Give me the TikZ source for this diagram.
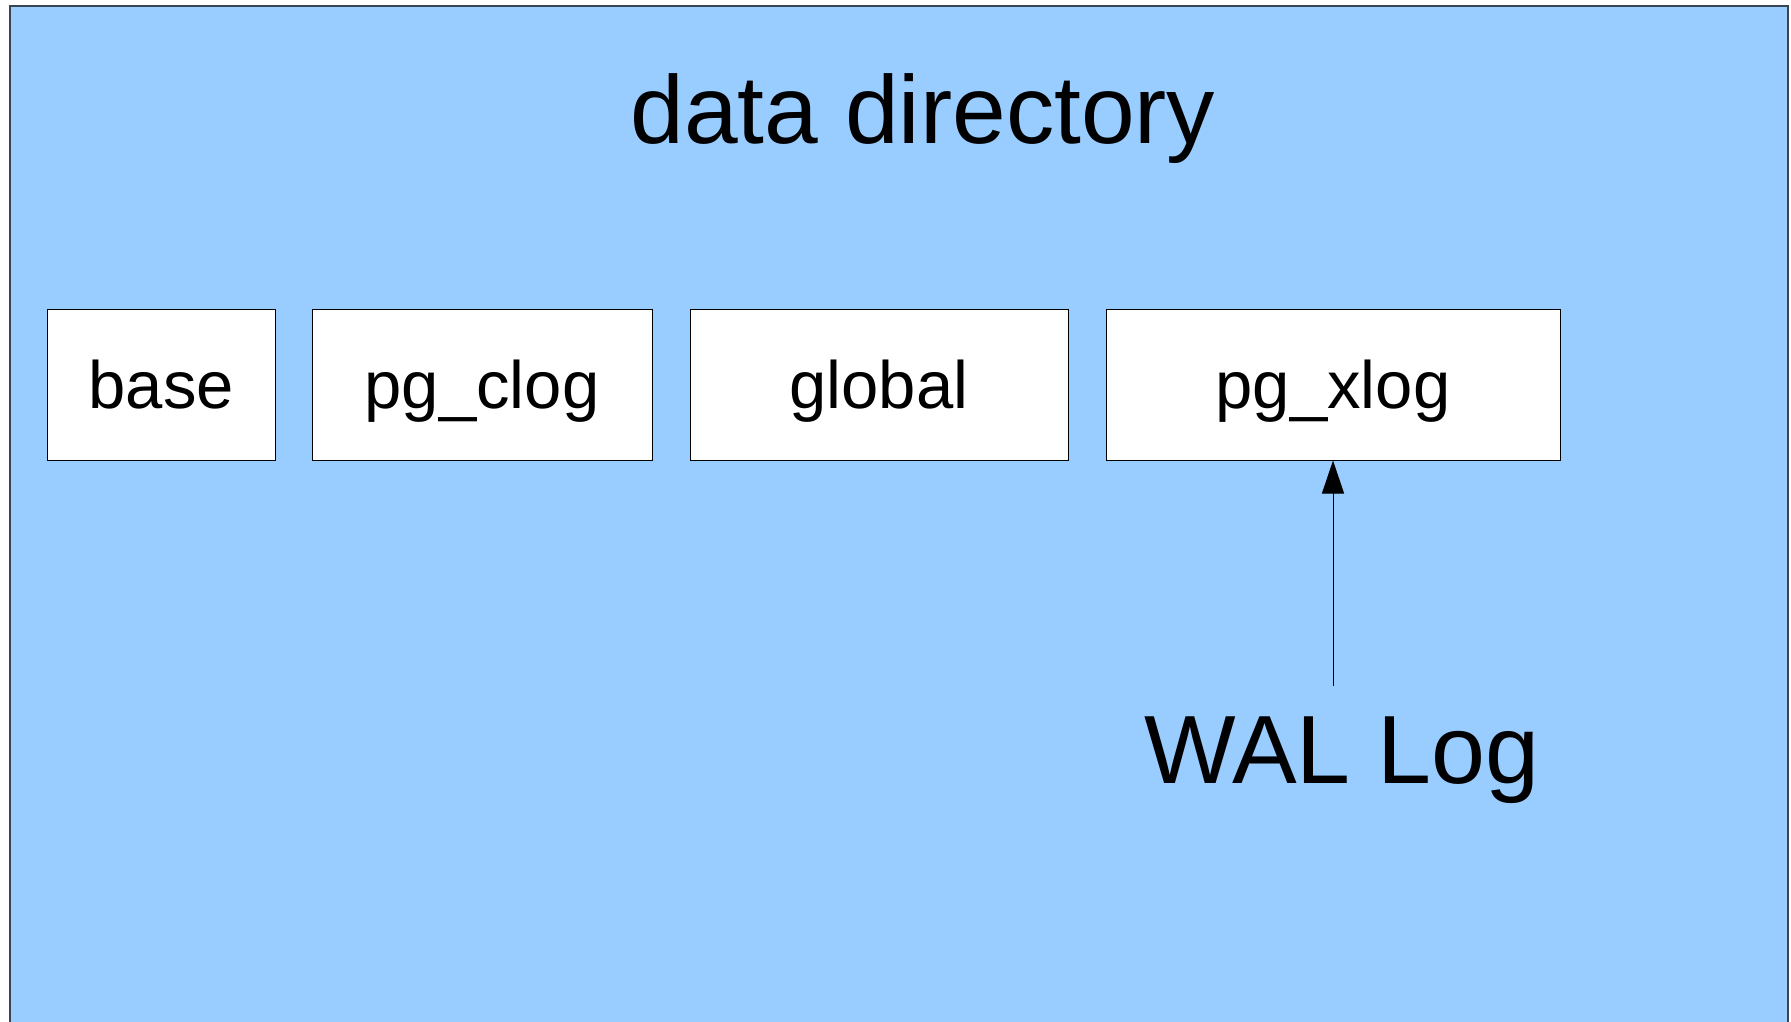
\documentclass[tikz,border=0pt]{standalone}
\usepackage{fontspec}
\setmainfont{Liberation Sans}
\usetikzlibrary{arrows.meta}
\definecolor{dirblue}{HTML}{99CCFF}
\definecolor{dirline}{HTML}{3A4552}
\begin{document}
\begin{tikzpicture}[x=1pt,y=-1pt,
  dirbox/.style={draw=black,line width=1pt,fill=white,inner sep=0pt,
    minimum height=151pt,text height=50pt,text depth=3pt,
    font=\fontsize{67}{75}\selectfont},
  conn/.style={line width=1pt,-{Triangle[length=33pt,width=22pt]}}]
\useasboundingbox (0,0) rectangle (1791,1022);
\clip (0,0) rectangle (1791,1022);
\fill[white] (0,0) rectangle (1791,1022);
\draw[fill=dirblue,draw=dirline,line width=1.5pt] (10,6) rectangle (1788,1040);
\node[font=\fontsize{96.5}{110}\selectfont,anchor=base,inner sep=0pt] (title) at (923,143) {data directory};
\node[dirbox,minimum width=227.5pt] (base) at (161.25,384.5) {base};
\node[dirbox,minimum width=340pt] (clog) at (482,384.5) {pg\_clog};
\node[dirbox,minimum width=378pt] (global) at (879,384.5) {global};
\node[dirbox,minimum width=454pt] (xlog) at (1333,384.5) {pg\_xlog};
\coordinate (walstart) at (1333,686);
\node[font=\fontsize{97}{110}\selectfont,anchor=base,inner sep=0pt] (wal) at (1342,783.5) {WAL Log};
\draw[conn] (walstart) -- (xlog.south);
\end{tikzpicture}
\end{document}
